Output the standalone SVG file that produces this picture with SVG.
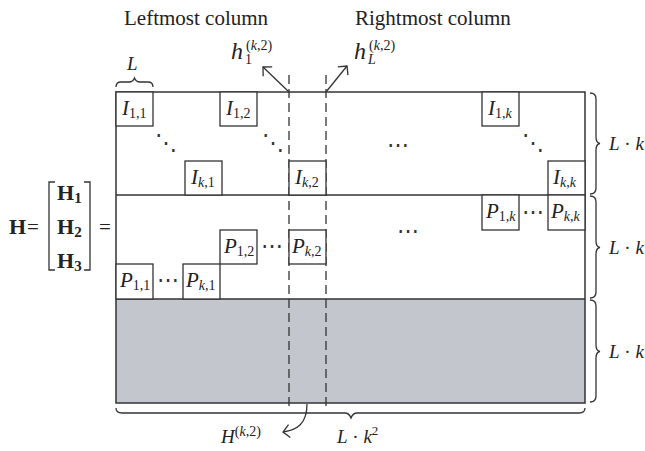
<svg xmlns="http://www.w3.org/2000/svg" width="645" height="451" viewBox="0 0 645 451">
<style>
text{font-family:"Liberation Serif","Times New Roman",serif;fill:#222}
.t{font-size:21px}
.m{font-size:21px;font-style:italic}
.s{font-size:14px;font-style:normal}
.i{font-style:italic}
.b{font-size:22px;font-weight:bold}
.bs{font-size:15px;font-weight:bold}
.lab{font-size:19px}
.h{font-size:24px;font-style:italic}
.sup{font-size:14px}
.dots{font-family:"DejaVu Sans",sans-serif;font-weight:200;font-size:22px;text-anchor:middle;fill:#333}
.blk{fill:#fff;stroke:#333;stroke-width:1.3}
.ln{fill:none;stroke:#333;stroke-width:1.3}
.dash{fill:none;stroke:#333;stroke-width:1.3;stroke-dasharray:9 5}
</style>
<defs>
<marker id="ah" markerUnits="userSpaceOnUse" viewBox="-10 -8 12 16" refX="0" refY="0" markerWidth="12" markerHeight="16" orient="auto">
<path d="M-6.5,-6.5 L0,0 L-6.5,6.5" fill="none" stroke="#333" stroke-width="1.3"/>
</marker>
</defs>

<g id="titles">
<text class="t" x="124" y="25">Leftmost column</text>
<text class="t" x="355" y="25">Rightmost column</text>
</g>

<g id="lhs">
<text class="b" x="9" y="234">H</text>
<text class="t" x="27" y="234">=</text>
<path class="ln" d="M55,182 H49 V270 H55 M84,182 H90 V270 H84"/>
<text class="b" x="57" y="200">H<tspan class="bs" dy="3">1</tspan></text>
<text class="b" x="57" y="234">H<tspan class="bs" dy="3">2</tspan></text>
<text class="b" x="57" y="268">H<tspan class="bs" dy="3">3</tspan></text>
<text class="t" x="99" y="234">=</text>
</g>

<g id="matrix">
<rect x="116" y="299" width="469" height="104" fill="#c3c7cd"/>
<rect x="116" y="92" width="469" height="311" fill="none" stroke="#333" stroke-width="1.5"/>
<line x1="116" y1="195" x2="585" y2="195" stroke="#333" stroke-width="1.5"/>
<line x1="116" y1="299" x2="585" y2="299" stroke="#333" stroke-width="1.5"/>
</g>

<g id="connectors">
<line class="dash" x1="289" y1="75" x2="289" y2="409"/>
<line class="dash" x1="326" y1="75" x2="326" y2="409"/>
<line class="ln" x1="289" y1="92" x2="263" y2="67" marker-end="url(#ah)"/>
<line class="ln" x1="326" y1="92" x2="347" y2="66" marker-end="url(#ah)"/>
<path class="ln" d="M307,404 C307,424 297,430 283,432" marker-end="url(#ah)"/>
</g>

<g id="I11"><rect class="blk" x="116" y="92" width="37" height="34"/><text class="m" x="122" y="115">I<tspan class="s" dy="3">1,1</tspan></text></g>
<g id="I12"><rect class="blk" x="220" y="92" width="37" height="34"/><text class="m" x="226" y="115">I<tspan class="s" dy="3">1,2</tspan></text></g>
<g id="I1k"><rect class="blk" x="482" y="92" width="37" height="34"/><text class="m" x="488" y="115">I<tspan class="s" dy="3">1,<tspan class="i">k</tspan></tspan></text></g>
<g id="Ik1"><rect class="blk" x="185" y="161" width="37" height="34"/><text class="m" x="191" y="184">I<tspan class="s" dy="3"><tspan class="i">k</tspan>,1</tspan></text></g>
<g id="Ik2"><rect class="blk" x="289" y="161" width="37" height="34"/><text class="m" x="295" y="184">I<tspan class="s" dy="3"><tspan class="i">k</tspan>,2</tspan></text></g>
<g id="Ikk"><rect class="blk" x="548" y="161" width="37" height="34"/><text class="m" x="553" y="184">I<tspan class="s" dy="3"><tspan class="i">k</tspan>,<tspan class="i">k</tspan></tspan></text></g>

<g id="P1k"><rect class="blk" x="482" y="195" width="37" height="35"/><text class="m" x="486" y="218">P<tspan class="s" dy="3">1,<tspan class="i">k</tspan></tspan></text></g>
<g id="Pkk"><rect class="blk" x="548" y="195" width="37" height="35"/><text class="m" x="551" y="218">P<tspan class="s" dy="3"><tspan class="i">k</tspan>,<tspan class="i">k</tspan></tspan></text></g>
<g id="P12"><rect class="blk" x="220" y="230" width="37" height="34"/><text class="m" x="224" y="253">P<tspan class="s" dy="3">1,2</tspan></text></g>
<g id="Pk2"><rect class="blk" x="289" y="230" width="37" height="34"/><text class="m" x="292" y="253">P<tspan class="s" dy="3"><tspan class="i">k</tspan>,2</tspan></text></g>
<g id="P11"><rect class="blk" x="116" y="264" width="37" height="35"/><text class="m" x="120" y="287">P<tspan class="s" dy="3">1,1</tspan></text></g>
<g id="Pk1"><rect class="blk" x="183" y="264" width="37" height="35"/><text class="m" x="186" y="287">P<tspan class="s" dy="3"><tspan class="i">k</tspan>,1</tspan></text></g>

<g id="ellipses">
<text class="dots" x="166" y="150">⋱</text>
<text class="dots" x="273" y="150">⋱</text>
<text class="dots" x="533" y="150">⋱</text>
<text class="dots" x="398" y="152">⋯</text>
<text class="dots" x="408" y="238">⋯</text>
<text class="dots" x="168" y="287">⋯</text>
<text class="dots" x="272" y="253">⋯</text>
<text class="dots" x="533" y="219">⋯</text>
</g>

<g id="braces">
<path class="ln" d="M116,87 Q116,82 121,82 L129,82 Q133,82 134.5,78 Q136,82 140,82 L148,82 Q153,82 153,87"/>
<path class="ln" d="M590,93 Q596,93 596,99 L596,137 Q596,143 600,143.5 Q596,144 596,150 L596,188 Q596,194 590,194"/>
<path class="ln" d="M590,196 Q596,196 596,202 L596,241 Q596,247 600,247.5 Q596,248 596,254 L596,292 Q596,298 590,298"/>
<path class="ln" d="M590,300 Q596,300 596,306 L596,345 Q596,351 600,351.5 Q596,352 596,358 L596,396 Q596,402 590,402"/>
<path class="ln" d="M116,408 Q116,413 122,413 L345,413 Q349,413 351,418 Q353,413 357,413 L579,413 Q585,413 585,408"/>
</g>

<g id="labels">
<text class="lab i" x="127" y="70">L</text>
<text class="lab" x="609" y="150"><tspan class="i">L</tspan> · <tspan class="i">k</tspan></text>
<text class="lab" x="609" y="254"><tspan class="i">L</tspan> · <tspan class="i">k</tspan></text>
<text class="lab" x="609" y="358"><tspan class="i">L</tspan> · <tspan class="i">k</tspan></text>
<text class="lab" x="337" y="443"><tspan class="i">L</tspan> · <tspan class="i">k</tspan><tspan font-size="13" dy="-8">2</tspan></text>
<text class="lab" x="221" y="443"><tspan class="i">H</tspan><tspan font-size="14" dy="-7">(<tspan class="i">k</tspan>,2)</tspan></text>
<text class="h" x="231" y="59">h</text>
<text class="sup" x="246" y="50">(<tspan class="i">k</tspan>,2)</text>
<text class="sup" x="245" y="64">1</text>
<text class="h" x="354" y="59">h</text>
<text class="sup" x="369" y="50">(<tspan class="i">k</tspan>,2)</text>
<text class="sup i" x="368" y="64">L</text>
</g>
</svg>
